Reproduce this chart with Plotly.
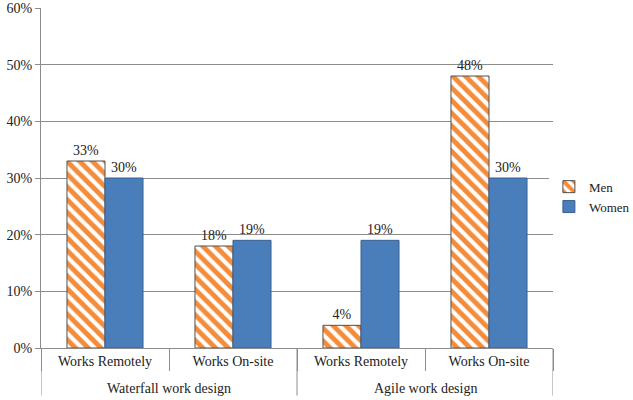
import plotly.graph_objects as go

groups = ["Waterfall work design", "Agile work design"]
locations = ["Works Remotely", "Works On-site", "Works Remotely", "Works On-site"]
positions = [0, 1, 2, 3]
men = [0.33, 0.18, 0.04, 0.48]
women = [0.30, 0.19, 0.19, 0.30]
y_ticks = [0, 0.1, 0.2, 0.3, 0.4, 0.5, 0.6]

font = dict(family="Times New Roman, Liberation Serif, serif", size=14, color="#222")
grey = "#8c8c8c"

fig = go.Figure()
fig.add_trace(go.Bar(
    name="Men", x=positions, y=men,
    marker=dict(color="white", line=dict(color="#505050", width=1),
                pattern=dict(shape="\\", fgcolor="#f48c3a", bgcolor="white", size=9,
                             solidity=0.55, fgopacity=1)),
    text=[f"{v:.0%}" for v in men], textposition="outside", textfont=font, cliponaxis=False,
))
fig.add_trace(go.Bar(
    name="Women", x=positions, y=women,
    marker=dict(color="#4a7ebb", line=dict(color="#3a5f8f", width=1)),
    text=[f"{v:.0%}" for v in women], textposition="outside", textfont=font, cliponaxis=False,
))

# group labels and dividers (axis decoration)
for i, g in enumerate(groups):
    fig.add_annotation(x=2 * i + 0.5, y=-0.118, xref="x", yref="paper", text=g,
                       showarrow=False, font=font, yanchor="middle")
for xb in [-0.5, 1.5, 3.5]:
    fig.add_shape(type="line", x0=xb, x1=xb, y0=0, y1=-0.14, xref="x", yref="paper",
                  line=dict(color=grey, width=1), layer="below")

fig.update_layout(
    width=633, height=400,
    margin=dict(l=41, r=80, t=8, b=52, autoexpand=False),
    paper_bgcolor="white", plot_bgcolor="white",
    barmode="group", bargap=0.406, bargroupgap=0,
    font=font,
    showlegend=True,
    legend=dict(x=0.992, y=0.445, xanchor="left", yanchor="middle",
                font=dict(family="Times New Roman, Liberation Serif, serif", size=13, color="#222"),
                tracegroupgap=4, itemwidth=30),
    xaxis=dict(range=[-0.5, 3.5], tickvals=positions, ticktext=locations,
               showline=True, linecolor=grey, linewidth=1, ticks="", automargin=False,
               showgrid=False, zeroline=False, tickfont=font,
               minor=dict(tickvals=[-0.5, 0.5, 1.5, 2.5, 3.5], ticks="outside",
                          ticklen=22, tickcolor=grey, showgrid=False)),
    yaxis=dict(range=[0, 0.6], tickvals=y_ticks, tickformat=".0%",
               showgrid=True, gridcolor=grey, gridwidth=1, automargin=False,
               showline=True, linecolor=grey, linewidth=1,
               ticks="outside", ticklen=5, tickcolor=grey, zeroline=False,
               tickfont=font),
)

fig.write_html("out.html", config={"displayModeBar": False},
               post_script="document.body.style.margin='0';document.body.style.overflow='hidden';")
